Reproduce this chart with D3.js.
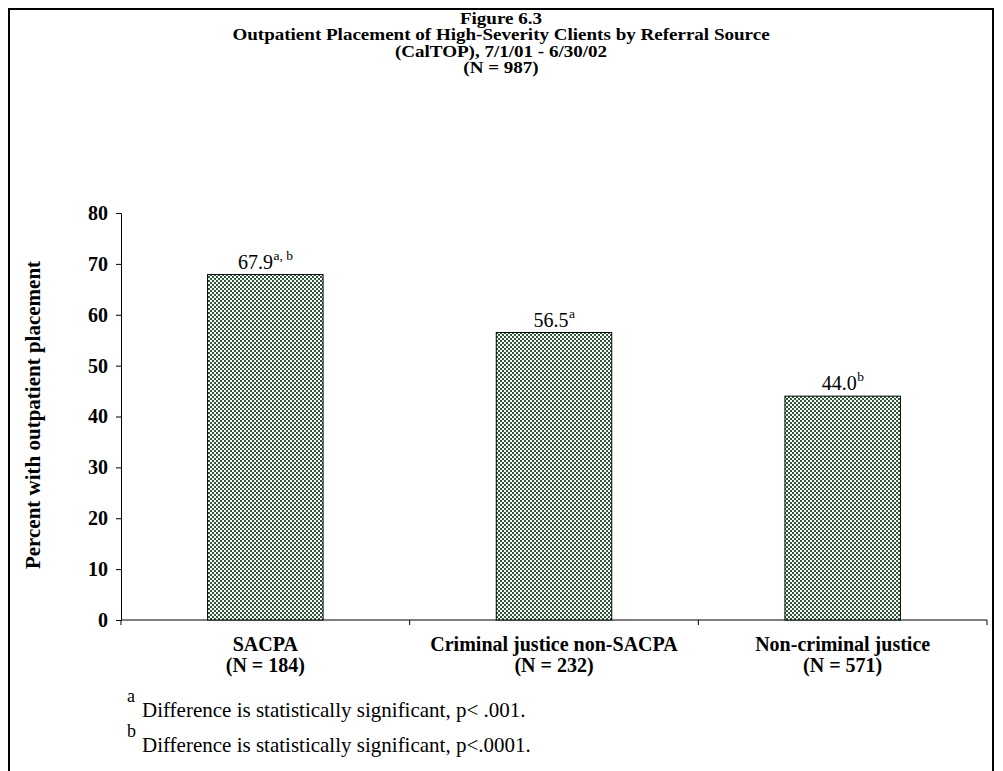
<!DOCTYPE html>
<html>
<head>
<meta charset="utf-8">
<script src="https://cdn.jsdelivr.net/npm/d3@7"></script>
<style>
  html, body { margin: 0; padding: 0; background: #fff; }
  svg { display: block; font-family: "Liberation Serif", "Times New Roman", serif; }
</style>
</head>
<body>
<svg id="chart" width="1003" height="771"></svg>
<script>
// ---- data ----
const categories = ["SACPA", "Criminal justice non-SACPA", "Non-criminal justice"];
const categoryN = ["(N = 184)", "(N = 232)", "(N = 571)"];
const values = [67.9, 56.5, 44.0];
const valueLabels = ["67.9", "56.5", "44.0"];
const superscripts = ["a, b", "a", "b"];
const yTicks = [0, 10, 20, 30, 40, 50, 60, 70, 80];
const titleLines = [
  "Figure 6.3",
  "Outpatient Placement of High-Severity Clients by Referral Source",
  "(CalTOP), 7/1/01 - 6/30/02",
  "(N = 987)"
];
const yAxisTitle = "Percent with outpatient placement";
const footnoteMarks = ["a", "b"];
const footnotes = [
  "Difference is statistically significant, p< .001.",
  "Difference is statistically significant, p<.0001."
];

// ---- drawing ----
const svg = d3.select("#chart");

// pattern fill
const defs = svg.append("defs");
const pat = defs.append("pattern")
  .attr("id", "checker")
  .attr("patternUnits", "userSpaceOnUse")
  .attr("width", 4).attr("height", 4);
pat.append("rect").attr("width", 4).attr("height", 4).attr("fill", "#ffffff");
pat.append("rect").attr("x", 0).attr("y", 0).attr("width", 2).attr("height", 2).attr("fill", "#2c5a36");
pat.append("rect").attr("x", 2).attr("y", 2).attr("width", 2).attr("height", 2).attr("fill", "#2c5a36");

// outer frame (open at bottom)
svg.append("path")
  .attr("d", "M9,775 L9,9 L993,9 L993,775")
  .attr("fill", "none")
  .attr("stroke", "#000")
  .attr("stroke-width", 2);

// title (tightly spaced lines as in the reference)
svg.append("g").selectAll("text")
  .data(titleLines).join("text")
  .attr("transform", (d, i) => `translate(501,${23.5 + i * 16.6}) scale(1.19,1)`)
  .attr("x", 0).attr("y", 0)
  .attr("text-anchor", "middle")
  .attr("font-weight", "bold")
  .attr("font-size", 16)
  .text(d => d);

// scales
const x = d3.scaleBand().domain(categories).range([121, 987]).paddingInner(0).paddingOuter(0);
const y = d3.scaleLinear().domain([0, 80]).range([620, 213]);
const barW = x.bandwidth() * 0.4;

// y axis
const yAxis = svg.append("g")
  .attr("transform", "translate(121,0)")
  .call(d3.axisLeft(y).tickValues(yTicks).tickSize(5).tickPadding(8).tickFormat(d3.format("d")));
yAxis.select(".domain").attr("stroke", "#000").attr("stroke-width", 1);
yAxis.selectAll(".tick line").attr("stroke", "#000");
yAxis.selectAll(".tick text")
  .attr("font-family", "Liberation Serif, Times New Roman, serif")
  .attr("font-size", 20).attr("font-weight", "bold").attr("fill", "#000");

// x axis (ticks between categories)
const xAxisG = svg.append("g").attr("transform", "translate(0,620)");
xAxisG.append("line")
  .attr("x1", x.range()[0]).attr("x2", x.range()[1])
  .attr("stroke", "#000");
const boundaries = categories.map(c => x(c) + x.bandwidth());
xAxisG.selectAll(".xt").data([x.range()[0]].concat(boundaries)).join("line")
  .attr("class", "xt")
  .attr("x1", d => d).attr("x2", d => d)
  .attr("y1", 0).attr("y2", 5)
  .attr("stroke", "#000");

// category labels
const catG = svg.append("g");
categories.forEach((c, i) => {
  const cx = x(c) + x.bandwidth() / 2;
  const t = catG.append("text")
    .attr("text-anchor", "middle")
    .attr("font-weight", "bold").attr("font-size", 20);
  t.append("tspan").attr("x", cx).attr("y", 651).text(c);
  t.append("tspan").attr("x", cx).attr("y", 672).text(categoryN[i]);
});

// bars
svg.append("g").selectAll("rect")
  .data(values).join("rect")
  .attr("x", (d, i) => x(categories[i]) + x.bandwidth() / 2 - barW / 2)
  .attr("y", d => y(d))
  .attr("width", barW)
  .attr("height", d => y(0) - y(d))
  .attr("fill", "url(#checker)")
  .attr("stroke", "#000")
  .attr("stroke-width", 1);

// value labels (number + superscript, whole group centred on bar)
const vg = svg.append("g");
values.forEach((v, i) => {
  const cx = x(categories[i]) + x.bandwidth() / 2;
  const by = y(v) - 6;
  const t = vg.append("text")
    .attr("x", 0).attr("y", by)
    .attr("font-size", 20)
    .text(valueLabels[i]);
  const w = t.node().getComputedTextLength();
  const s = vg.append("text")
    .attr("y", by - 9)
    .attr("font-size", 13.5)
    .text(superscripts[i]);
  const sw = s.node().getComputedTextLength();
  const left = cx - (w + sw) / 2;
  t.attr("x", left);
  s.attr("x", left + w + 0.5);
});

// y axis title
svg.append("text")
  .attr("transform", "translate(40,415) rotate(-90)")
  .attr("text-anchor", "middle")
  .attr("font-weight", "bold")
  .attr("font-size", 21)
  .text(yAxisTitle);

// footnotes
footnotes.forEach((f, i) => {
  const base = 717 + i * 35;
  svg.append("text")
    .attr("x", 127).attr("y", base - 15)
    .attr("font-size", 18)
    .text(footnoteMarks[i]);
  svg.append("text")
    .attr("x", 142).attr("y", base)
    .attr("font-size", 21)
    .text(f);
});
</script>
</body>
</html>
